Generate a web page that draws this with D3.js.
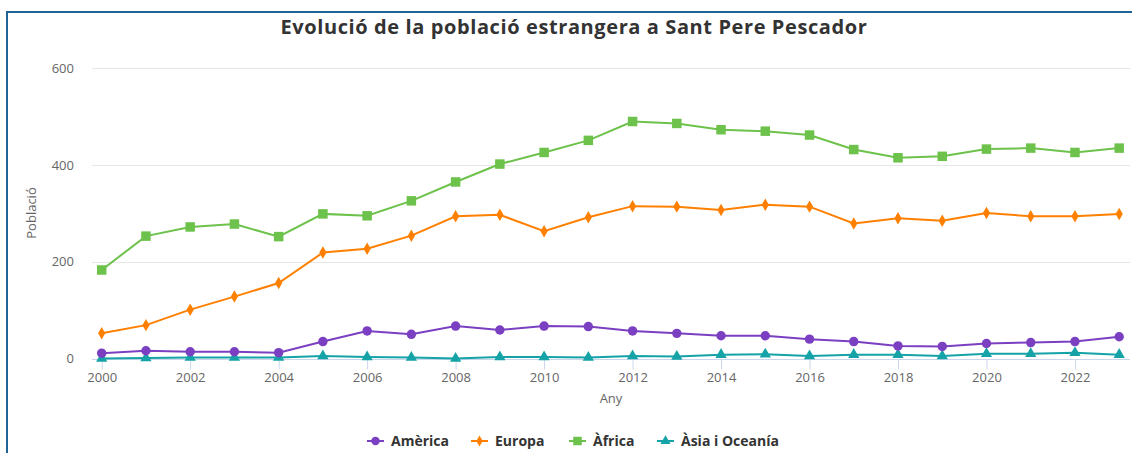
<!DOCTYPE html>
<html lang="ca">
<head>
<meta charset="utf-8">
<title>Evolució de la població estrangera</title>
<style>
  body { margin: 0; background: #fff; }
  svg text { font-family: "Open Sans", "DejaVu Sans", sans-serif; }
</style>
</head>
<body>
<script src="https://d3js.org/d3.v7.min.js"></script>
<script>
// dades
var anys = d3.range(2000, 2024);
var america = [11, 16, 14, 14, 12, 35, 57, 50, 67, 59, 67, 66, 57, 52, 47, 47, 40, 35, 26, 25, 31, 33, 35, 45];
var europa  = [52, 69, 101, 128, 156, 219, 227, 254, 294, 297, 263, 292, 315, 314, 307, 318, 314, 279, 290, 285, 301, 294, 294, 299];
var africa  = [183, 253, 272, 278, 252, 299, 295, 326, 365, 402, 426, 451, 490, 486, 473, 470, 462, 432, 415, 418, 433, 435, 426, 435];
var asia    = [0, 1, 2, 2, 2, 5, 3, 2, 0, 3, 3, 2, 5, 4, 8, 9, 5, 8, 8, 5, 10, 10, 12, 8];
var yTicks = [0, 200, 400, 600];
var xTicks = d3.range(2000, 2024, 2);

var series = [
  { name: "Amèrica", values: america, color: "#7b3fc2", symbol: d3.symbolCircle, size: 70 },
  { name: "Europa", values: europa, color: "#ff8000", symbol: d3.symbolDiamond, size: 45 },
  { name: "Àfrica", values: africa, color: "#6cc24a", symbol: d3.symbolSquare, size: 90 },
  { name: "Àsia i Oceanía", values: asia, color: "#15a3a8", symbol: d3.symbolTriangle, size: 55 }
];

var w = 1132, h = 453;
var svg = d3.select("body").append("svg")
  .attr("width", w).attr("height", h);

// marc
svg.append("line").attr("x1", 6).attr("x2", w).attr("y1", 12).attr("y2", 12)
  .attr("stroke", "#1f6496").attr("stroke-width", 2);
svg.append("line").attr("x1", 7).attr("x2", 7).attr("y1", 11).attr("y2", h)
  .attr("stroke", "#1f6496").attr("stroke-width", 2);

var x = d3.scaleLinear().domain([2000, 2023]).range([101.7, 1119.2]);
var y = d3.scaleLinear().domain([0, 600]).range([358.5, 68.3]);
var plotLeft = 92, plotRight = 1130;

// títol
svg.append("text")
  .attr("x", 574).attr("y", 34)
  .attr("text-anchor", "middle")
  .attr("font-size", "20px").attr("font-weight", "bold")
  .attr("letter-spacing", "0.6px")
  .attr("fill", "#333")
  .text("Evolució de la població estrangera a Sant Pere Pescador");

// graella
svg.selectAll(".grid").data(yTicks.filter(function(d) { return d > 0; }))
  .enter().append("line")
  .attr("x1", plotLeft).attr("x2", plotRight)
  .attr("y1", function(d) { return Math.round(y(d)) + 0.5; })
  .attr("y2", function(d) { return Math.round(y(d)) + 0.5; })
  .attr("stroke", "#e6e6e6").attr("stroke-width", 1);

svg.selectAll(".ylab").data(yTicks)
  .enter().append("text")
  .attr("x", 74).attr("y", function(d) { return y(d) + 4.5; })
  .attr("text-anchor", "end")
  .attr("font-size", "13px").attr("fill", "#666")
  .text(function(d) { return d; });

// eix x
var xAxis = d3.axisBottom(x).tickValues(xTicks).tickFormat(d3.format("d")).tickSize(10).tickPadding(3);
var gx = svg.append("g").attr("transform", "translate(0," + (Math.round(y(0)) + 0.5) + ")").call(xAxis);
gx.select(".domain").attr("d", "M" + plotLeft + ",0H" + plotRight).attr("stroke", "#ccd6eb");
gx.selectAll(".tick line").attr("stroke", "#ccd6eb");
gx.selectAll(".tick text").attr("fill", "#666").attr("font-size", "13px")
  .attr("font-family", "\"Open Sans\", sans-serif");

svg.append("text")
  .attr("x", 611).attr("y", 403)
  .attr("text-anchor", "middle")
  .attr("font-size", "13px").attr("fill", "#666")
  .text("Any");

svg.append("text")
  .attr("transform", "translate(36,213) rotate(-90)")
  .attr("text-anchor", "middle")
  .attr("font-size", "13px").attr("fill", "#666")
  .text("Població");

// línies
var line = d3.line()
  .x(function(d, i) { return x(anys[i]); })
  .y(function(d) { return y(d); });

var order = [3, 0, 1, 2];
order.forEach(function(k) {
  var s = series[k];
  var g = svg.append("g");
  g.append("path").datum(s.values)
    .attr("d", line)
    .attr("fill", "none").attr("stroke", s.color).attr("stroke-width", 2);
  g.selectAll("path.pt").data(s.values).enter().append("path")
    .attr("class", "pt")
    .attr("d", d3.symbol().type(s.symbol).size(s.size))
    .attr("transform", function(d, i) { return "translate(" + x(anys[i]) + "," + y(d) + ")"; })
    .attr("fill", s.color);
});

// llegenda
var legendX = [367, 471, 569, 657];
var leg = svg.selectAll(".leg").data(series).enter().append("g")
  .attr("transform", function(d, i) { return "translate(" + legendX[i] + ",441)"; });
leg.append("line").attr("x1", 0).attr("x2", 17).attr("y1", 0).attr("y2", 0)
  .attr("stroke", function(d) { return d.color; }).attr("stroke-width", 2);
leg.append("path")
  .attr("d", function(d) { return d3.symbol().type(d.symbol).size(d.size * 0.8)(); })
  .attr("transform", "translate(8.5,0)")
  .attr("fill", function(d) { return d.color; });
leg.append("text")
  .attr("x", 24).attr("y", 5)
  .attr("font-size", "14px").attr("font-weight", "bold").attr("fill", "#333")
  .text(function(d) { return d.name; });
</script>
</body>
</html>
